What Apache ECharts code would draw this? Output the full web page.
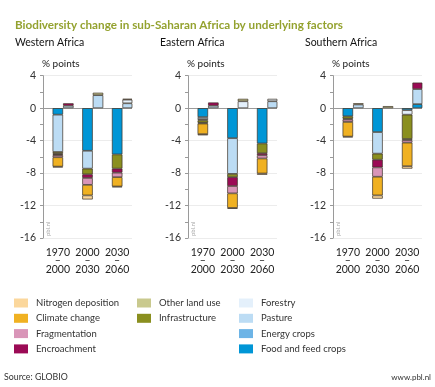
<!DOCTYPE html>
<html><head><meta charset="utf-8">
<script src="https://cdn.jsdelivr.net/npm/echarts@6/dist/echarts.min.js"></script>
<style>html,body{margin:0;padding:0;background:#fff}#c{width:435px;height:387px}</style>
</head><body><div id="c"></div>
<script>
const periods = ['1970\n–\n2000', '2000\n–\n2030', '2030\n–\n2060'];
const regions = ['Western Africa', 'Eastern Africa', 'Southern Africa'];
// stacking order from the zero line outward
const factors = ['Food and feed crops', 'Energy crops', 'Pasture', 'Forestry', 'Infrastructure',
  'Other land use', 'Encroachment', 'Fragmentation', 'Climate change', 'Nitrogen deposition'];
const yTicks = [-16, -12, -8, -4, 0, 4];

// one row per factor (order of factors), one column per period (% points)
const westernLoss = [
  [-0.8, -5.25, -5.7], [0, 0, 0], [-4.6, -2.2, 0], [0, 0, 0], [-0.2, -0.7, -1.75],
  [-0.1, 0, 0], [-0.1, -0.45, -0.5], [-0.25, -0.85, -0.55], [-1.15, -1.3, -1.15], [-0.1, -0.5, -0.1]];
const westernGain = [
  [0, 0, 0], [0, 0, 0], [0.3, 1.6, 0.6], [0, 0, 0.45], [0, 0, 0],
  [0, 0.3, 0.1], [0.3, 0, 0], [0, 0, 0], [0, 0, 0], [0, 0, 0]];
const easternLoss = [
  [-1.1, -3.7, -4.35], [0, 0, 0], [-0.25, -4.4, 0], [-0.15, 0, 0], [-0.3, -0.4, -1.2],
  [-0.1, 0, 0], [0, -1.1, -0.25], [0, -0.9, -0.4], [-1.3, -1.8, -1.85], [-0.15, -0.1, -0.15]];
const easternGain = [
  [0, 0, 0], [0, 0, 0], [0.3, 0, 0.85], [0, 0.85, 0.3], [0, 0, 0],
  [0, 0.3, 0], [0.4, 0, 0], [0, 0, 0], [0, 0, 0], [0, 0, 0]];
const southernLoss = [
  [-1.0, -2.95, -0.25], [0, 0, 0], [0, -2.65, 0], [0, 0, -0.55], [-0.3, -0.75, -3.0],
  [-0.1, 0, -0.15], [0, -0.95, 0], [-0.3, -1.15, -0.3], [-1.8, -2.3, -2.9], [-0.1, -0.4, -0.3]];
const southernGain = [
  [0, 0, 0.5], [0, 0, 0], [0.45, 0, 1.85], [0, 0, 0], [0, 0, 0],
  [0.15, 0.25, 0], [0, 0, 0.8], [0, 0, 0], [0, 0, 0], [0, 0, 0]];

const colors = ['#0096d6', '#6db4e6', '#bcdcf4', '#e4f0fb', '#8a8f1f',
  '#c9c98e', '#9b0a55', '#d995b8', '#f0b122', '#fbd79c'];

const lossData = [westernLoss, easternLoss, southernLoss];
const gainData = [westernGain, easternGain, southernGain];
const lefts = [43, 188, 333];
const FONT = 'Lato';

const grids = [], xAxes = [], yAxes = [], series = [], graphics = [];
regions.forEach((r, i) => {
  grids.push({left: lefts[i], top: 75.7, width: 89, height: 162.3});
  xAxes.push({type: 'category', gridIndex: i, data: periods,
    axisLine: {show: false}, axisTick: {show: false},
    axisLabel: {interval: 0, color: '#222', fontSize: 10.5, fontFamily: FONT, lineHeight: 8.7, margin: 10}});
  yAxes.push({type: 'value', gridIndex: i, min: -16, max: 4, interval: 4,
    axisLine: {show: true, lineStyle: {color: '#9a9a9a', width: 1}},
    axisTick: {show: true, length: 3, lineStyle: {color: '#9a9a9a'}},
    minorTick: {show: true, splitNumber: 2, length: 3, lineStyle: {color: '#9a9a9a'}},
    splitLine: {show: true, lineStyle: {color: ['#ececec', '#ececec', '#ececec', '#ececec', '#9a9a9a', '#ececec'], width: 1}},
    axisLabel: {color: '#333', fontSize: 10.5, fontFamily: FONT, margin: 7,
      formatter: v => (yTicks.includes(v) ? String(v) : '')}});
  series.push({type: 'bar', name: '_ph', xAxisIndex: i, yAxisIndex: i, stack: 'ph' + i,
    barWidth: 10.5, barGap: '0%', data: [null, null, null], silent: true});
  factors.forEach((f, k) => {
    series.push({type: 'bar', name: f, xAxisIndex: i, yAxisIndex: i, stack: 'loss' + i,
      barWidth: 10.5, barGap: '0%',
      itemStyle: {color: colors[k], borderColor: '#3b3125', borderWidth: 0.7},
      data: lossData[i][k].map(v => (v === 0 ? null : v))});
  });
  factors.forEach((f, k) => {
    series.push({type: 'bar', name: f, xAxisIndex: i, yAxisIndex: i, stack: 'gain' + i,
      barWidth: 10.5, barGap: '0%',
      itemStyle: {color: colors[k], borderColor: '#3b3125', borderWidth: 0.7},
      data: gainData[i][k].map(v => (v === 0 ? null : v))});
  });
  graphics.push({type: 'text', x: lefts[i] - 28, y: 43,
    style: {text: r, fill: '#111', font: '10.5px ' + FONT, verticalAlign: 'middle'}});
  graphics.push({type: 'text', x: lefts[i] - 1, y: 64,
    style: {text: '% points', fill: '#222', font: '10px ' + FONT, verticalAlign: 'middle'}});
  graphics.push({type: 'text', x: lefts[i] + 5, y: 236, rotation: Math.PI / 2,
    style: {text: 'pbl.nl', fill: '#aaa', font: '6px ' + FONT, align: 'left', verticalAlign: 'middle'}});
});

graphics.push({type: 'text', x: 15, y: 25,
  style: {text: 'Biodiversity change in sub-Saharan Africa by underlying factors', fill: '#94a22f',
    font: 'bold 11.7px ' + FONT, verticalAlign: 'middle'}});
graphics.push({type: 'text', x: 4, y: 377,
  style: {text: 'Source: GLOBIO', fill: '#333', font: '8.8px ' + FONT, verticalAlign: 'middle'}});
graphics.push({type: 'text', x: 431, y: 377,
  style: {text: 'www.pbl.nl', fill: '#333', font: '8px ' + FONT, verticalAlign: 'middle', align: 'right'}});

const legendBase = {orient: 'vertical', top: 298, itemWidth: 14, itemHeight: 9, itemGap: 5.3,
  icon: 'rect', selectedMode: false, itemStyle: {borderWidth: 0},
  textStyle: {color: '#333', fontSize: 9.5, fontFamily: FONT, lineHeight: 10, padding: [0, 0, 0, 3]}, padding: 0};
const legends = [
  Object.assign({}, legendBase, {left: 14, data: ['Nitrogen deposition', 'Climate change', 'Fragmentation', 'Encroachment']}),
  Object.assign({}, legendBase, {left: 137, data: ['Other land use', 'Infrastructure']}),
  Object.assign({}, legendBase, {left: 239, data: ['Forestry', 'Pasture', 'Energy crops', 'Food and feed crops']})
];

const chart = echarts.init(document.getElementById('c'), null, {renderer: 'canvas'});
chart.setOption({animation: false, grid: grids, xAxis: xAxes, yAxis: yAxes, series: series,
  legend: legends, graphic: graphics});
</script></body></html>
